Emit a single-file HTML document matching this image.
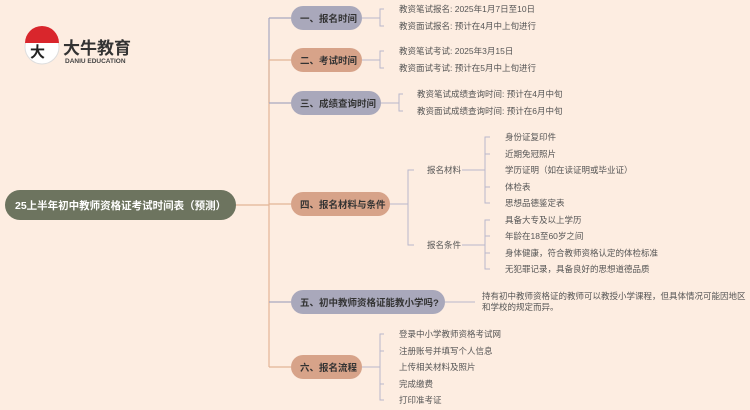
<!DOCTYPE html><html><head><meta charset="utf-8"><style>body{margin:0;background:#fdede1}svg{display:block}text{font-family:"Liberation Sans","Noto Sans CJK SC",sans-serif}.l{font-size:8.5px;fill:#555}.n{font-size:9.5px;font-weight:bold;fill:#333}</style></head><body>
<svg width="750" height="410" viewBox="0 0 750 410">
<rect width="750" height="410" fill="#fdede1"/>
<circle cx="42" cy="47" r="17" fill="#fff" stroke="#ddd"/>
<path d="M25,43 A17,17 0 0 1 59,43 Z" fill="#d9262c"/>
<text x="30" y="57" font-size="15" font-weight="bold" fill="#222">大</text>
<text x="63" y="54" font-size="17" font-weight="bold" fill="#333">大牛教育</text>
<text x="65" y="63" font-size="6.5" font-weight="bold" fill="#444">DANIU EDUCATION</text>
<g fill="none" stroke-width="1.2">
<path d="M236,205 H269" stroke="#e3b596"/>
<path d="M269,18 V103" stroke="#a9a8c0"/><path d="M269,60 V204" stroke="#e3b596"/>
<path d="M269,204 V302" stroke="#e3b596"/><path d="M269,302 V367" stroke="#e3b596"/>
<path d="M269,18 H291" stroke="#a9a8c0"/><path d="M269,60 H291" stroke="#e3b596"/>
<path d="M269,103 H291" stroke="#a9a8c0"/><path d="M269,204 H291" stroke="#e3b596"/>
<path d="M269,302 H291" stroke="#a9a8c0"/><path d="M269,367 H291" stroke="#e3b596"/>
</g>
<g fill="none" stroke="#b9b8cc" stroke-width="1">
<path d="M362,18 H380 M384,9 H380 V26 H384"/>
<path d="M362,60 H380 M384,51 H380 V68 H384"/>
<path d="M381,103 H399 M403,94 H399 V111 H403"/>
<path d="M390,204 H408 M414,170 H408 V245 H414"/>
<path d="M462,170 H485 M462,245 H485 M490,137 H485 V203 H490 M485,154 H490 M485,187 H490 M490,220 H485 V269 H490 M485,236 H490 M485,253 H490"/>
<path d="M445,302 H475"/>
<path d="M362,367 H380 M384,334 H380 V400 H384 M380,351 H384 M380,384 H384"/>
</g>
<rect x="5" y="190" width="231" height="30" rx="15" fill="#6d745f"/>
<text x="15" y="209" font-size="10.5" font-weight="bold" fill="#fff">25上半年初中教师资格证考试时间表（预测）</text>
<rect x="291" y="6" width="71" height="24" rx="12" fill="#a9a8bb"/><text class="n" x="300" y="22">一、报名时间</text>
<rect x="291" y="48" width="71" height="24" rx="12" fill="#d7a389"/><text class="n" x="300" y="64">二、考试时间</text>
<rect x="291" y="91" width="90" height="24" rx="12" fill="#a9a8bb"/><text class="n" x="300" y="107">三、成绩查询时间</text>
<rect x="291" y="192" width="99" height="24" rx="12" fill="#d7a389"/><text class="n" x="300" y="208">四、报名材料与条件</text>
<rect x="291" y="290" width="154" height="24" rx="12" fill="#a9a8bb"/><text class="n" x="300" y="306">五、初中教师资格证能教小学吗?</text>
<rect x="291" y="355" width="71" height="24" rx="12" fill="#d7a389"/><text class="n" x="300" y="371">六、报名流程</text>
<g>
<text class="l" x="399" y="12">教资笔试报名: 2025年1月7日至10日</text>
<text class="l" x="399" y="29">教资面试报名: 预计在4月中上旬进行</text>
<text class="l" x="399" y="54">教资笔试考试: 2025年3月15日</text>
<text class="l" x="399" y="71">教资面试考试: 预计在5月中上旬进行</text>
<text class="l" x="417" y="97">教资笔试成绩查询时间: 预计在4月中旬</text>
<text class="l" x="417" y="114">教资面试成绩查询时间: 预计在6月中旬</text>
<text class="l" x="427" y="173">报名材料</text>
<text class="l" x="427" y="248">报名条件</text>
<text class="l" x="505" y="140">身份证复印件</text>
<text class="l" x="505" y="157">近期免冠照片</text>
<text class="l" x="505" y="173">学历证明（如在读证明或毕业证）</text>
<text class="l" x="505" y="190">体检表</text>
<text class="l" x="505" y="206">思想品德鉴定表</text>
<text class="l" x="505" y="223">具备大专及以上学历</text>
<text class="l" x="505" y="239">年龄在18至60岁之间</text>
<text class="l" x="505" y="256">身体健康，符合教师资格认定的体检标准</text>
<text class="l" x="505" y="272">无犯罪记录，具备良好的思想道德品质</text>
<text class="l" x="482" y="299">持有初中教师资格证的教师可以教授小学课程，但具体情况可能因地区</text>
<text class="l" x="482" y="310">和学校的规定而异。</text>
<text class="l" x="399" y="337">登录中小学教师资格考试网</text>
<text class="l" x="399" y="354">注册账号并填写个人信息</text>
<text class="l" x="399" y="370">上传相关材料及照片</text>
<text class="l" x="399" y="387">完成缴费</text>
<text class="l" x="399" y="403">打印准考证</text>
</g>
</svg></body></html>
